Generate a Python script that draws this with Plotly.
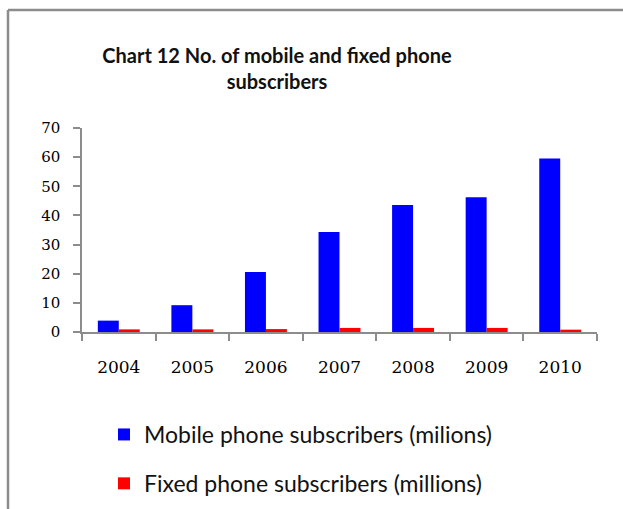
import plotly.graph_objects as go

years = ["2004", "2005", "2006", "2007", "2008", "2009", "2010"]
mobile = [3.9, 9.2, 20.6, 34.3, 43.6, 46.2, 59.5]
fixed = [0.9, 0.9, 1.0, 1.4, 1.4, 1.4, 0.8]

mobile_name = "Mobile phone subscribers (milions)"
fixed_name = "Fixed phone subscribers (millions)"
title_text = "Chart 12 No. of mobile and fixed phone<br>subscribers"

W, H = 623, 509

fig = go.Figure()
fig.add_trace(go.Bar(x=years, y=mobile, name=mobile_name,
                     marker=dict(color="#0000FF", line=dict(width=0)),
                     legendgroup="m"))
fig.add_trace(go.Bar(x=years, y=fixed, name=fixed_name,
                     marker=dict(color="#FF0000", line=dict(width=0)),
                     legendgroup="f"))

axis_col = "#8C8C8C"
fig.update_layout(
    width=W, height=H,
    margin=dict(l=82, r=26, t=128, b=177, autoexpand=False),
    paper_bgcolor="white", plot_bgcolor="white",
    barmode="group", bargap=0.43, bargroupgap=0,
    title=dict(text=title_text, xref="container", yref="container",
               x=277 / W, xanchor="center", y=1 - 63 / H, yanchor="top",
               font=dict(family="Lato", size=20, color="#111111", weight="bold")),
    xaxis=dict(type="category", showline=True, linecolor=axis_col, linewidth=1.5,
               ticks="outside", tickson="boundaries", ticklen=7, tickcolor=axis_col,
               tickwidth=1.5, showgrid=False, zeroline=False, tickangle=0,
               ticklabelstandoff=19,
               tickfont=dict(family="DejaVu Serif", size=17, color="#000000")),
    yaxis=dict(range=[0, 70], dtick=10, showline=True, linecolor=axis_col, linewidth=1.5,
               ticks="outside", ticklen=7, tickcolor=axis_col, tickwidth=1.5,
               showgrid=False, zeroline=False, ticklabelstandoff=10,
               tickfont=dict(family="DejaVu Serif", size=15, color="#000000")),
    legend=dict(xref="container", yref="container", x=104 / W, xanchor="left",
                y=1 - 413 / H, yanchor="top", traceorder="grouped", tracegroupgap=16,
                font=dict(family="Lato", size=23, color="#111111"),
                bgcolor="rgba(0,0,0,0)"),
    showlegend=True,
)

# chart frame: top and left edges
fig.add_shape(type="line", xref="paper", yref="paper",
              x0=-74 / 515, x1=1.1, y0=1 + 118 / 204, y1=1 + 118 / 204,
              line=dict(color="#8C8C8C", width=2.5))
fig.add_shape(type="line", xref="paper", yref="paper",
              x0=-74 / 515, x1=-74 / 515, y0=1 + 118 / 204, y1=-1.0,
              line=dict(color="#8C8C8C", width=2.5))

fig.write_html("out.html")
